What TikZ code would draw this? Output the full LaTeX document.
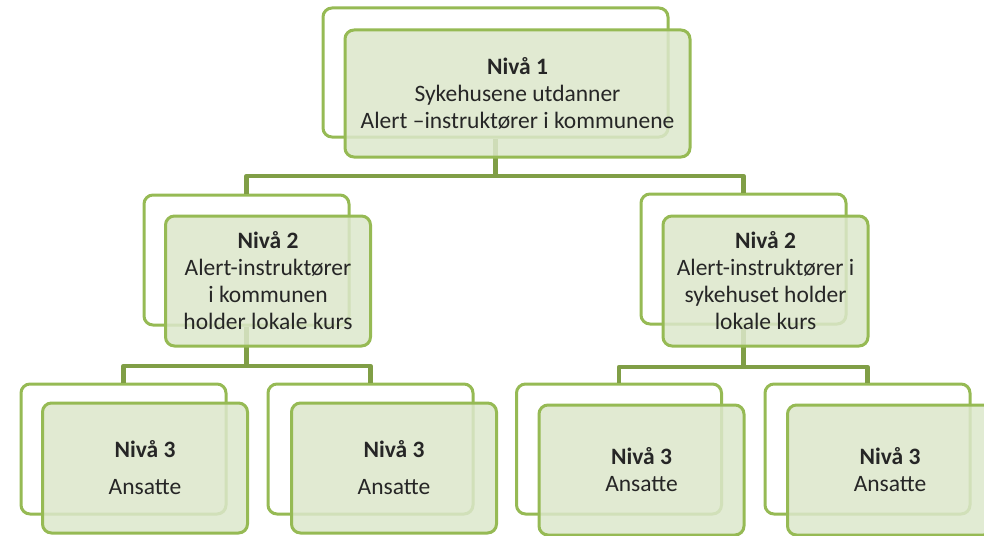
\documentclass[tikz,border=0pt]{standalone}
\usepackage{fontspec}
\setmainfont{Carlito}
\definecolor{leaf}{RGB}{150,186,84}
\definecolor{stem}{RGB}{128,158,70}
\definecolor{pale}{RGB}{220,231,203}
\begin{document}
\begin{tikzpicture}[x = 1pt, y = -1pt, % pixel units, y downwards
                line join = round
            ]

            \tikzstyle{back}=[draw = leaf, line width = 3pt, rounded corners = 9pt,
            fill = white, minimum width = 205pt, minimum height = 130pt]
            \tikzstyle{front}=[back, fill = pale, fill opacity = 0.85,
            text opacity = 1, align = center, text = black!85,
            font = \fontsize{23.5}{27}\selectfont]
            \tikzstyle{link}=[draw = stem, line width = 4.5pt]

            \useasboundingbox (0,0) rectangle (984,535);

            % back frames
            \node[back, minimum width = 345pt, minimum height = 129pt] (b1) at (495.5,72.5) {};
            \node[back] (b2) at (246.5,260) {}; \node[back] (b3) at (743.5,259) {};
            \node[back] (b4) at (123.5,449) {}; \node[back] (b5) at (370.5,449) {};
            \node[back] (b6) at (619,449) {}; \node[back] (b7) at (867.5,449) {};

            % junctions
            \coordinate (j1) at (495.5,176); \coordinate (j2) at (246.5,366);
            \coordinate (j3) at (743.5,367);

            \path[link] (b1.south) -- (j1); \path[link] (j1) -| (b2.north);
            \path[link] (j1) -| (b3.north); \path[link] (b2.south) -- (j2);
            \path[link] (j2) -| (b4.north); \path[link] (j2) -| (b5.north);
            \path[link] (b3.south) -- (j3); \path[link] (j3) -| (b6.north);
            \path[link] (j3) -| (b7.north);

            % front boxes
            \node[front, minimum width = 345pt, minimum height = 127pt] (1) at (517.5,93.5)
            {\textbf{Nivå 1}\\Sykehusene utdanner\\Alert –instruktører i kommunene};
            \node[front] (2) at (268,281)
            {\textbf{Nivå 2}\\Alert-instruktører\\i kommunen\\holder lokale kurs};
            \node[front] (3) at (765.5,281)
            {\textbf{Nivå 2}\\Alert-instruktører i\\sykehuset holder\\lokale kurs};
            \node[front] (4) at (145,468) {\textbf{Nivå 3}\\[10pt]Ansatte};
            \node[front] (5) at (394,468) {\textbf{Nivå 3}\\[10pt]Ansatte};
            \node[front] (6) at (641.5,470) {\textbf{Nivå 3}\\Ansatte};
            \node[front] (7) at (890,470) {\textbf{Nivå 3}\\Ansatte};
\end{tikzpicture}
\end{document}
